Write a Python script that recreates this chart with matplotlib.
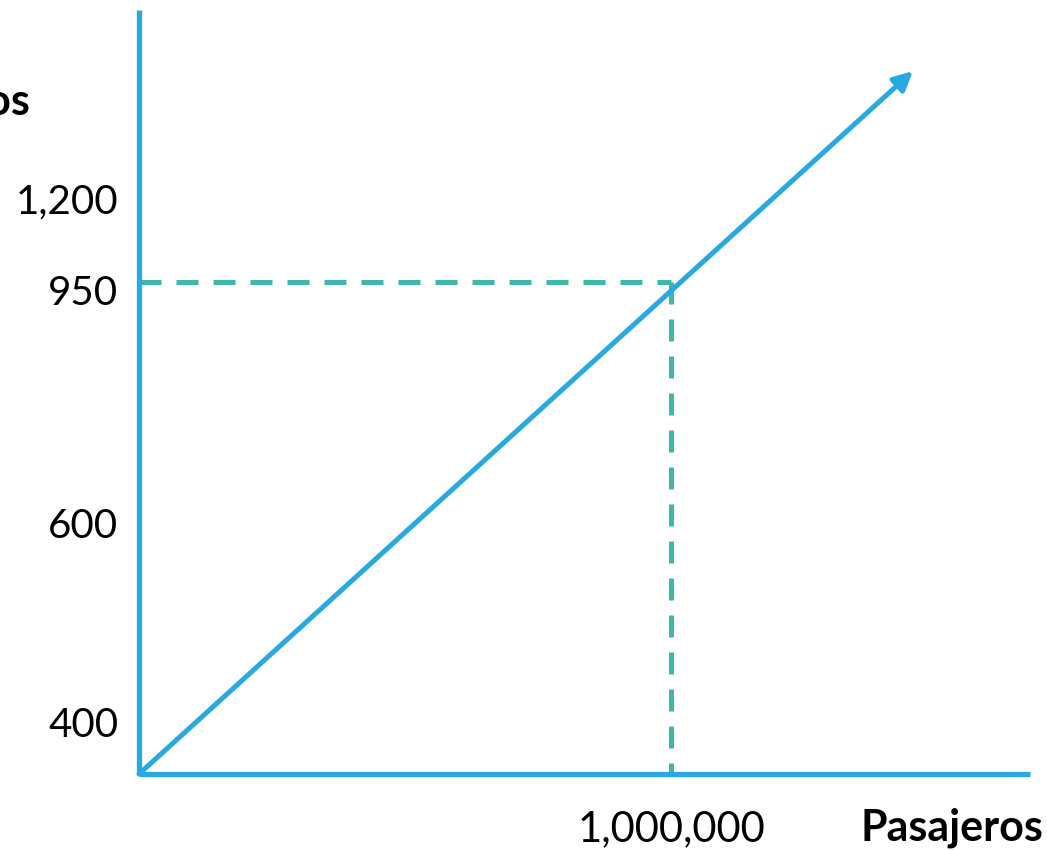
import matplotlib
matplotlib.use('Agg')
import matplotlib.pyplot as plt

plt.rcParams['font.family'] = ['Lato', 'DejaVu Sans']

# schematic cost line: passengers vs cost
line_x = [0, 1_455_000]
line_y = [0, 1357]

point_x = 1_000_000
point_y = 950

y_tick_pos = [100, 485, 935, 1112]
y_tick_labels = ['400', '600', '950', '1,200']
x_tick_pos = [1_000_000]
x_tick_labels = ['1,000,000']

x_max = 1_675_000
y_max = 1475

blue = '#29a9e1'
teal = '#3db8aa'

fig = plt.figure(figsize=(10.47, 8.5), dpi=100)
ax = fig.add_axes([139 / 1047, 76 / 850, 891 / 1047, 764 / 850])
ax.set_xlim(0, x_max)
ax.set_ylim(0, y_max)

for side in ['top', 'right']:
    ax.spines[side].set_visible(False)
for side in ['left', 'bottom']:
    ax.spines[side].set_color(blue)
    ax.spines[side].set_linewidth(3.8)
    ax.spines[side].set_capstyle('butt')

# dashed guide lines
ax.plot([0, point_x], [point_y, point_y], color=teal, lw=3.6, linestyle=(0, (4.4, 3.0)),
        dash_capstyle='butt', clip_on=False, zorder=2)
ax.plot([point_x, point_x], [point_y, 0], color=teal, lw=3.6, linestyle=(0, (4.4, 3.0)),
        dash_capstyle='butt', clip_on=False, zorder=2)

# diagonal with arrow head
ax.annotate('', xy=(line_x[1], line_y[1]), xytext=(line_x[0], line_y[0]),
            arrowprops=dict(arrowstyle='-|>', color=blue, lw=3.6,
                            mutation_scale=28, shrinkA=0, shrinkB=0),
            zorder=3)

ax.set_yticks(y_tick_pos, y_tick_labels)
ax.set_xticks(x_tick_pos, x_tick_labels)
ax.tick_params(axis='both', length=0, labelsize=29, colors='black')
ax.tick_params(axis='x', labelsize=30)
ax.tick_params(axis='y', pad=15)
ax.tick_params(axis='x', pad=26)

fig.text(1043 / 1047, (850 - 840) / 850, 'Pasajeros', ha='right', va='baseline',
         fontsize=31, fontweight='bold')
fig.text(30 / 1047, (850 - 115) / 850, 'Costos', ha='right', va='baseline',
         fontsize=31, fontweight='bold')

fig.savefig('out.png', dpi=100)
